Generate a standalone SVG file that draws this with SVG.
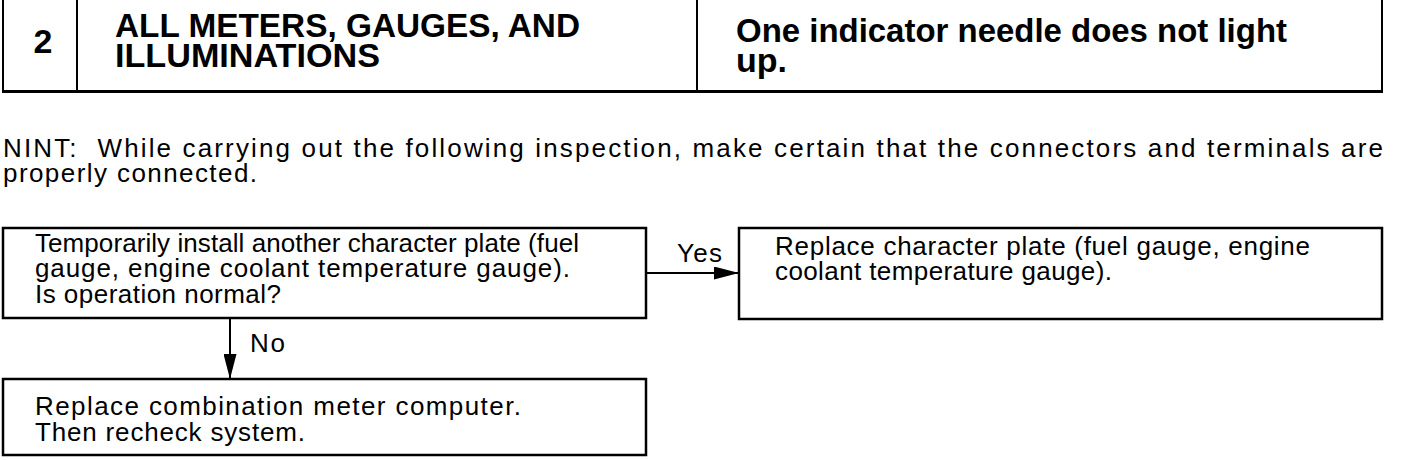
<svg xmlns="http://www.w3.org/2000/svg" width="1408" height="460" viewBox="0 0 1408 460">
<defs>
<style>
.hd{font-family:"Liberation Sans",Arial,sans-serif;font-weight:bold;font-size:34px;fill:#000}
.tx{font-family:"Liberation Sans",Arial,sans-serif;font-size:26px;fill:#000}
.bx{fill:#fff;stroke:#000;stroke-width:2.5}
.ln{stroke:#000;stroke-width:2;fill:none}
</style>
<marker id="ah" markerWidth="25" markerHeight="13" refX="25" refY="6.5" orient="auto" markerUnits="userSpaceOnUse">
<path d="M0,0 L25,6.5 L0,13 Z" fill="#000"/>
</marker>
</defs>
<rect width="1408" height="460" fill="#fff"/>
<g id="header">
<path class="ln" d="M3,0 V92 M77,0 V92 M697,0 V92 M1382,0 V92"/>
<path d="M2,91.5 H1383" stroke="#000" stroke-width="3"/>
<text class="hd" x="43" y="53" text-anchor="middle">2</text>
<text class="hd"><tspan x="115" y="37" textLength="465" lengthAdjust="spacingAndGlyphs">ALL METERS, GAUGES, AND</tspan><tspan x="115" y="67" textLength="265" lengthAdjust="spacingAndGlyphs">ILLUMINATIONS</tspan></text>
<text class="hd"><tspan x="736" y="42" textLength="551" lengthAdjust="spacingAndGlyphs">One indicator needle does not light</tspan><tspan x="736" y="72">up.</tspan></text>
</g>
<g id="note">
<text class="tx" xml:space="preserve"><tspan x="3" y="157" textLength="1380" lengthAdjust="spacing">NINT:  While carrying out the following inspection, make certain that the connectors and terminals are</tspan><tspan x="3" y="182" textLength="254" lengthAdjust="spacing">properly connected.</tspan></text>
</g>
<g id="node-check">
<rect class="bx" x="3" y="228" width="643" height="90"/>
<text class="tx"><tspan x="35" y="252" textLength="544" lengthAdjust="spacing">Temporarily install another character plate (fuel</tspan><tspan x="35" y="277" textLength="535" lengthAdjust="spacing">gauge, engine coolant temperature gauge).</tspan><tspan x="35" y="303" textLength="246" lengthAdjust="spacing">Is operation normal?</tspan></text>
</g>
<g id="node-replace-plate">
<rect class="bx" x="739" y="228" width="643" height="91"/>
<text class="tx"><tspan x="775" y="255" textLength="535" lengthAdjust="spacing">Replace character plate (fuel gauge, engine</tspan><tspan x="775" y="280" textLength="337" lengthAdjust="spacing">coolant temperature gauge).</tspan></text>
</g>
<g id="node-replace-computer">
<rect class="bx" x="3" y="379" width="643" height="76"/>
<text class="tx"><tspan x="35" y="415" textLength="486" lengthAdjust="spacing">Replace combination meter computer.</tspan><tspan x="35" y="441" textLength="270" lengthAdjust="spacing">Then recheck system.</tspan></text>
</g>
<g id="connectors">
<line class="ln" x1="646" y1="273" x2="739" y2="273" marker-end="url(#ah)"/>
<text class="tx" x="677" y="262" textLength="45" lengthAdjust="spacing">Yes</text>
<line class="ln" x1="230" y1="318" x2="230" y2="379" marker-end="url(#ah)"/>
<text class="tx" x="250" y="352" textLength="35" lengthAdjust="spacing">No</text>
</g>
</svg>
